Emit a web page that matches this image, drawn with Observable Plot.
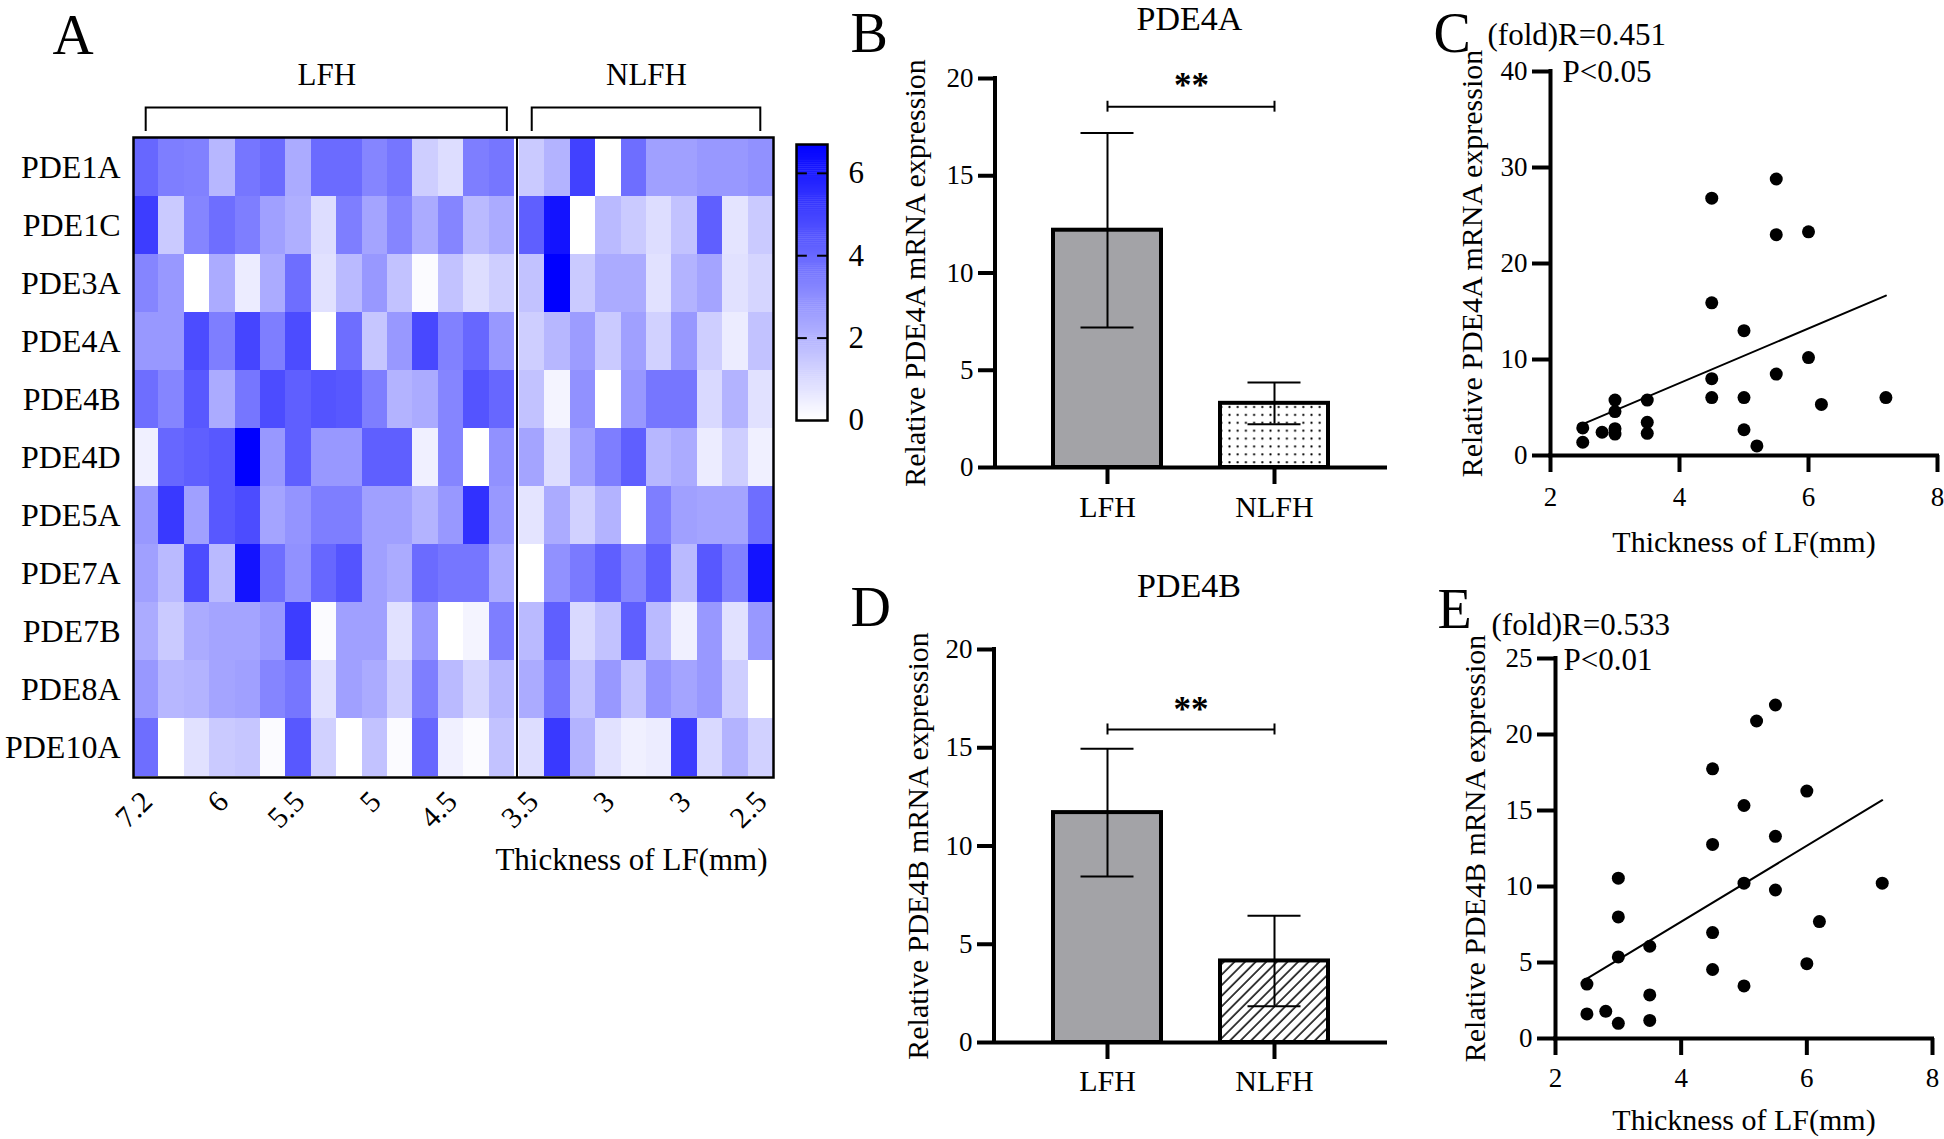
<!DOCTYPE html>
<html><head><meta charset="utf-8">
<script src="https://cdn.jsdelivr.net/npm/d3@7"></script>
<script src="https://cdn.jsdelivr.net/npm/@observablehq/plot@0.6"></script>
<style>
body{margin:0;background:#fff;}
#root{position:relative;width:1944px;height:1139px;background:#fff;overflow:hidden;font-family:"Liberation Serif","Times New Roman",serif;}
</style></head><body>
<svg width="0" height="0" style="position:absolute"><defs>
<pattern id="dots" patternUnits="userSpaceOnUse" width="8.2" height="7.9"><rect width="8.2" height="7.9" fill="white"/><circle cx="4.1" cy="4" r="1.15" fill="black"/></pattern>
<pattern id="hatch" patternUnits="userSpaceOnUse" width="7.5" height="7.5" patternTransform="rotate(45)"><rect width="7.5" height="7.5" fill="white"/><line x1="1" y1="0" x2="1" y2="7.5" stroke="black" stroke-width="1.5"/></pattern>
</defs></svg>
<div id="root"></div>
<script>
// ---------------- DATA ----------------
const heatGenes = ["PDE1A","PDE1C","PDE3A","PDE4A","PDE4B","PDE4D","PDE5A","PDE7A","PDE7B","PDE8A","PDE10A"];
// LFH samples (15 columns), thickness descending
const lfhExpr = [
  [4.0,3.4,3.3,1.9,3.6,3.9,2.2,3.9,3.9,3.2,3.6,1.3,0.9,3.4,3.6],
  [5.1,1.4,3.2,3.8,3.4,2.5,2.1,0.9,3.4,2.4,3.2,2.2,3.2,1.8,2.2],
  [3.2,2.7,0.0,2.2,0.5,2.2,3.8,0.8,1.8,2.7,1.6,0.1,1.6,0.9,1.3],
  [2.7,2.7,4.7,3.4,4.9,3.4,4.7,0.0,3.8,1.5,2.7,4.8,3.3,4.0,2.7],
  [3.8,3.2,4.4,2.2,3.6,4.7,4.2,4.5,4.4,3.4,2.0,2.2,3.2,4.5,4.0],
  [0.4,4.0,4.2,4.4,6.7,2.7,4.2,2.7,2.7,4.2,4.2,0.4,3.2,0.0,2.9],
  [2.7,5.2,2.5,4.4,4.7,2.4,2.8,3.4,3.4,2.5,2.5,2.0,2.7,5.4,2.7],
  [2.5,1.8,4.7,1.8,6.2,3.8,2.9,4.0,4.5,2.5,2.2,3.9,3.6,3.6,2.2],
  [2.2,1.4,2.2,2.4,2.4,2.7,5.1,0.1,2.5,2.5,0.8,2.7,0.0,0.3,3.4],
  [2.7,1.9,2.0,2.4,2.5,3.2,3.6,0.8,2.5,2.2,1.3,3.4,1.8,1.1,1.9],
  [3.8,0.0,0.8,1.4,1.5,0.1,4.4,1.2,0.0,1.6,0.1,4.0,0.4,0.1,1.6]
];
// NLFH samples (10 columns)
const nlfhExpr = [
  [1.4,2.0,5.0,0.0,3.8,2.5,2.5,2.7,2.7,2.9],
  [4.2,6.2,0.0,1.8,1.4,0.9,1.6,4.2,0.7,1.4],
  [1.6,6.7,1.4,2.2,2.2,0.8,2.0,2.4,0.8,1.1],
  [1.3,1.9,2.6,1.4,2.5,1.2,2.7,1.3,0.5,1.6],
  [1.6,0.3,2.9,0.0,2.7,3.6,3.6,1.0,2.0,0.8],
  [2.4,0.9,2.5,3.4,4.2,1.9,2.2,0.5,1.3,0.4],
  [0.7,2.2,1.2,2.0,0.0,3.4,2.5,2.4,2.4,3.8],
  [0.0,2.9,3.5,4.2,3.2,4.2,1.8,4.4,3.3,6.2],
  [1.8,4.2,1.0,1.6,4.2,1.8,0.4,2.7,0.8,2.7],
  [2.2,3.6,1.6,2.7,1.6,2.8,2.4,2.7,1.3,0.0],
  [0.9,5.2,2.0,0.8,0.4,0.5,5.1,1.0,2.0,1.2]
];
const heatTickLabels = ["7.2","","","6","","","5.5","","","5","","","4.5","","",
                        "3.5","","","3","","","3","","","2.5"];
const heatGroups = ["LFH","NLFH"];
const colorTicks = [0,2,4,6];

const barGroups = ["LFH","NLFH"];
const pde4aMean = [12.2, 3.3];
const pde4aSD   = [5.0, 1.07];
const pde4bMean = [11.7, 4.15];
const pde4bSD   = [3.25, 2.3];

const thicknessLF = [2.5,2.5,2.8,3,3,3,3,3.5,3.5,3.5,4.5,4.5,4.5,4.5,5,5,5,5.2,5.5,5.5,5.5,6,6,6.2,7.2];
const pde4aFold = [2.87,1.38,2.42,5.77,4.58,2.79,2.23,5.77,3.46,2.31,26.8,15.9,8.0,6.03,13.0,6.03,2.68,1.0,28.8,23.0,8.48,23.3,10.2,5.32,6.03];
const pde4bFold = [3.58,1.62,1.79,1.0,5.37,8.0,10.55,1.19,2.87,6.07,4.54,6.97,12.77,17.74,3.46,10.22,15.33,20.89,21.94,13.3,9.77,16.28,4.92,7.69,10.22];

// ---------------- RENDER ----------------
const root = document.getElementById("root");
const FONT = "'Liberation Serif','Times New Roman',serif";
const baseStyle = {fontFamily: FONT, fontSize: "30px", background: "transparent", overflow: "visible", color: "black"};
const intFmt = d => d3.format("~g")(d);
function place(el, left, top) {
  el.style.position = "absolute"; el.style.left = left + "px"; el.style.top = top + "px";
  root.appendChild(el);
}
const colorScale = {type: "linear", domain: [0, 6.7], range: ["#ffffff", "#0000ff"], interpolate: "rgb"};

// ---- Panel A heatmap ----
const nL = lfhExpr[0].length, gap = 0.2;
const colX = k => k < nL ? k : nL + gap + (k - nL);
const cells = [];
heatGenes.forEach((g, r) => {
  lfhExpr[r].forEach((v, i) => cells.push({gene: g, x1: colX(i), x2: colX(i) + 1, v}));
  nlfhExpr[r].forEach((v, j) => cells.push({gene: g, x1: colX(nL + j), x2: colX(nL + j) + 1, v}));
});
const colLabels = heatTickLabels.map((label, k) => ({label, c: colX(k) + 0.5})).filter(d => d.label);
const totalCols = nL + nlfhExpr[0].length;
const groupInfo = [
  {name: heatGroups[0], start: colX(0) + 0.5, end: colX(nL - 1) + 0.72},
  {name: heatGroups[1], start: colX(nL) + 0.5, end: colX(totalCols - 1) + 0.5}
].map(d => ({...d, center: (d.start + d.end) / 2}));

const heat = Plot.plot({
  width: 780, height: 900, marginLeft: 133, marginRight: 7, marginTop: 137, marginBottom: 123,
  style: baseStyle,
  x: {domain: [0, colX(totalCols - 1) + 1], axis: null},
  y: {domain: heatGenes, padding: 0},
  color: colorScale,
  marks: [
    Plot.barX(cells, {x1: "x1", x2: "x2", y: "gene", fill: "v", inset: 0, shapeRendering: "crispEdges"}),
    Plot.ruleX([nL + gap / 2], {stroke: "black", strokeWidth: 2}),
    Plot.frame({stroke: "black", strokeWidth: 2.5}),
    Plot.axisY({tickSize: 0, tickPadding: 13, fontSize: 32, label: null}),
    Plot.text(colLabels, {x: "c", text: "label", frameAnchor: "bottom", rotate: -45, textAnchor: "end", lineAnchor: "middle", dx: 1, dy: 19, fontSize: 30}),
    Plot.text(["Thickness of LF(mm)"], {frameAnchor: "bottom-right", textAnchor: "end", lineAnchor: "middle", dx: -6, dy: 83, fontSize: 31}),
    Plot.text(groupInfo, {x: "center", text: "name", frameAnchor: "top", textAnchor: "middle", lineAnchor: "middle", dy: -62, fontSize: 31}),
    Plot.text(["A"], {frameAnchor: "top-left", textAnchor: "start", lineAnchor: "middle", dx: -81, dy: -102, fontSize: 57})
  ]
});
{
  const hx = heat.scale("x");
  const s = d3.select(heat);
  groupInfo.forEach(b => {
    const x1 = hx.apply(b.start), x2 = hx.apply(b.end);
    s.append("path").attr("d", `M${x1},131V107.5H${x2}V131`).attr("fill", "none").attr("stroke", "black").attr("stroke-width", 2);
  });
}
place(heat, 0, 0);

// ---- colour bar ----
const rampSteps = d3.range(0, 6.7, 0.05);
const cbar = Plot.plot({
  width: 120, height: 360, marginLeft: 16, marginRight: 73, marginTop: 44, marginBottom: 40,
  style: baseStyle,
  x: {domain: [0, 1], axis: null},
  y: {domain: [0, 6.7]},
  color: colorScale,
  marks: [
    Plot.rect(rampSteps, {x1: 0, x2: 1, y1: d => d, y2: d => Math.min(d + 0.06, 6.7), fill: d => d}),
    Plot.ruleY(colorTicks.filter(t => t > 0), {x1: 0, x2: 0.35, strokeWidth: 2}),
    Plot.ruleY(colorTicks.filter(t => t > 0), {x1: 0.68, x2: 1, strokeWidth: 2}),
    Plot.frame({stroke: "black", strokeWidth: 2.5}),
    Plot.axisY({anchor: "right", ticks: colorTicks, tickFormat: intFmt, tickSize: 0, tickPadding: 21, fontSize: 31, label: null})
  ]
});
place(cbar, 780, 100);

// ---- bar panels ----
function barPanel(o) {
  const rows = barGroups.map((g, i) => ({g, m: o.means[i], s: o.sds[i]}));
  const p = Plot.plot({
    width: o.W, height: o.H, marginLeft: o.ml, marginRight: o.mr, marginTop: o.mt, marginBottom: o.mb,
    style: baseStyle,
    x: {domain: barGroups, paddingInner: 0.353, paddingOuter: 0.35},
    y: {domain: [0, 20]},
    marks: [
      Plot.barY(rows.slice(0, 1), {x: "g", y: "m", fill: "#a3a3a7", stroke: "black", strokeWidth: 4}),
      Plot.barY(rows.slice(1), {x: "g", y: "m", fill: `url(#${o.pattern})`, stroke: "black", strokeWidth: 4}),
      Plot.ruleX(rows, {x: "g", y1: d => d.m - d.s, y2: d => d.m + d.s, strokeWidth: 2}),
      Plot.tickY(rows, {x: "g", y: d => d.m + d.s, strokeWidth: 2, insetLeft: 27.5, insetRight: 27.5}),
      Plot.tickY(rows, {x: "g", y: d => d.m - d.s, strokeWidth: 2, insetLeft: 27.5, insetRight: 27.5}),
      Plot.ruleY([0], {strokeWidth: 4}),
      Plot.axisY({ticks: [0, 5, 10, 15, 20], tickFormat: intFmt, tickSize: 17, tickPadding: 5, fontSize: 27, strokeWidth: 4, label: null}),
      Plot.axisX({tickSize: 17, tickPadding: o.xPad, fontSize: 30, strokeWidth: 4, label: null}),
      Plot.link([o.sig], {x1: d => barGroups[0], x2: d => barGroups[1], y1: "y", y2: "y", strokeWidth: 2}),
      Plot.ruleX(barGroups, {x: d => d, y1: o.sig.y - 0.28, y2: o.sig.y + 0.28, strokeWidth: 2}),
      Plot.text(["**"], {y: o.sig.star, fontSize: 35, fontWeight: "bold", textAnchor: "middle", lineAnchor: "middle"}),
      Plot.text([o.title], {frameAnchor: "top", textAnchor: "middle", lineAnchor: "middle", dx: -2, dy: o.titleDy, fontSize: 34}),
      Plot.text([o.letter], {frameAnchor: "top-left", textAnchor: "start", lineAnchor: "middle", dx: o.letterDx, dy: o.letterDy, fontSize: 56}),
      Plot.text([o.yLabel], {frameAnchor: "left", rotate: -90, textAnchor: "middle", lineAnchor: "middle", dx: o.yLabelDx, fontSize: 30})
    ]
  });
  const ys = p.scale("y"), xs = p.scale("x");
  d3.select(p).append("line")
    .attr("x1", xs.range[0]).attr("x2", xs.range[0])
    .attr("y1", ys.apply(20)).attr("y2", ys.apply(0))
    .attr("stroke", "black").attr("stroke-width", 4).attr("stroke-linecap", "square");
  return p;
}
place(barPanel({W: 560, H: 560, ml: 155, mr: 13, mt: 78, mb: 93, means: pde4aMean, sds: pde4aSD,
  pattern: "dots", sig: {y: 18.55, star: 19.6}, title: "PDE4A", letter: "B", titleDy: -59,
  letterDx: -145, letterDy: -44, yLabelDx: -80, xPad: 11, yLabel: "Relative PDE4A mRNA expression"}), 840, 0);
place(barPanel({W: 560, H: 569, ml: 154, mr: 13, mt: 79, mb: 97, means: pde4bMean, sds: pde4bSD,
  pattern: "hatch", sig: {y: 15.93, star: 16.95}, title: "PDE4B", letter: "D", titleDy: -63,
  letterDx: -144, letterDy: -41, yLabelDx: -76, xPad: 10, yLabel: "Relative PDE4B mRNA expression"}), 840, 570);

// ---- scatter panels ----
function scatterPanel(o) {
  const data = thicknessLF.map((x, i) => ({x, y: o.values[i]}));
  return Plot.plot({
    width: o.W, height: o.H, marginLeft: o.ml, marginRight: o.mr, marginTop: o.mt, marginBottom: o.mb,
    style: baseStyle,
    x: {domain: [2, 8]},
    y: {domain: [0, o.yMax]},
    marks: [
      Plot.ruleY([0], {strokeWidth: 4, strokeLinecap: "square"}),
      Plot.ruleX([2], {strokeWidth: 4, strokeLinecap: "square"}),
      Plot.axisX({ticks: [2, 4, 6, 8], tickFormat: intFmt, tickSize: 17, tickPadding: o.xPad, fontSize: 27, strokeWidth: 4, label: null}),
      Plot.axisY({ticks: o.yTicks, tickFormat: intFmt, tickSize: 18, tickPadding: 5, fontSize: 27, strokeWidth: 4, label: null}),
      Plot.linearRegressionY(data, {x: "x", y: "y", ci: 0, stroke: "black", strokeWidth: 2}),
      Plot.dot(data, {x: "x", y: "y", r: 6.5, fill: "black"}),
      Plot.text([o.letter], {frameAnchor: "top-left", textAnchor: "start", lineAnchor: "middle", dx: o.letterDx, dy: o.letterDy, fontSize: 56}),
      Plot.text([o.rText], {frameAnchor: "top-left", textAnchor: "start", lineAnchor: "middle", dx: o.rDx, dy: o.rDy, fontSize: 31}),
      Plot.text([o.pText], {frameAnchor: "top-left", textAnchor: "start", lineAnchor: "middle", dx: o.pDx, dy: o.pDy, fontSize: 31}),
      Plot.text([o.yLabel], {frameAnchor: "left", rotate: -90, textAnchor: "middle", lineAnchor: "middle", dx: o.yLabelDx, fontSize: 30}),
      Plot.text(["Thickness of LF(mm)"], {frameAnchor: "bottom", textAnchor: "middle", lineAnchor: "middle", dy: o.xTitleDy, fontSize: 30})
    ]
  });
}
place(scatterPanel({W: 564, H: 560, ml: 170, mr: 7, mt: 71, mb: 105, values: pde4aFold, yMax: 40, yTicks: [0,10,20,30,40],
  xPad: 14, letter: "C", letterDx: -117, letterDy: -37, rText: "(fold)R=0.451", rDx: -63, rDy: -36,
  pText: "P<0.05", pDx: 12, pDy: 1, yLabelDx: -78, xTitleDy: 87, yLabel: "Relative PDE4A mRNA expression"}), 1380, 0);
place(scatterPanel({W: 564, H: 569, ml: 175, mr: 12, mt: 88, mb: 101, values: pde4bFold, yMax: 25, yTicks: [0,5,10,15,20,25],
  xPad: 12, letter: "E", letterDx: -118, letterDy: -48, rText: "(fold)R=0.533", rDx: -64, rDy: -33,
  pText: "P<0.01", pDx: 8, pDy: 2, yLabelDx: -80, xTitleDy: 82, yLabel: "Relative PDE4B mRNA expression"}), 1380, 570);
</script>
</body></html>
